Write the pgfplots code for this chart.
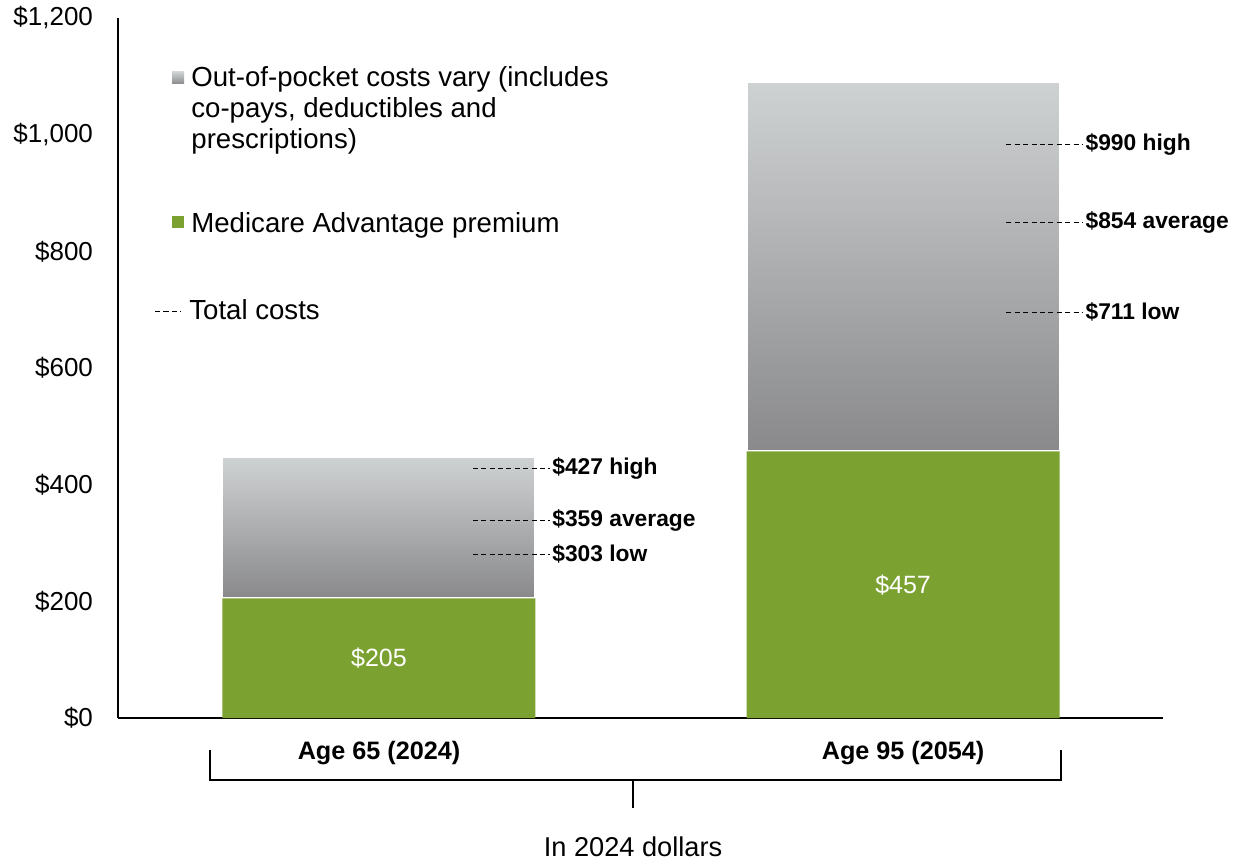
\documentclass[border=0pt]{standalone}
\usepackage{fontspec}
\setmainfont{Liberation Sans}
\usepackage{pgfplots}
\pgfplotsset{compat=1.18}
\definecolor{mgreen}{RGB}{123,162,48}
\definecolor{gtop}{RGB}{207,210,211}
\definecolor{gbot}{RGB}{137,137,139}
\pgfplotsset{
  base/.style={at={(59pt,73pt)}, anchor=south west, scale only axis,
    width=522.5pt, height=350pt, xmin=-0.498, xmax=1.496, ymin=0, ymax=1200},
  dl/.style={black, no markers, line width=0.5pt, dash pattern=on 2.5pt off 1.7pt}
}
\begin{document}
\begin{tikzpicture}[x=1pt,y=1pt]
\useasboundingbox (0,0) rectangle (617,432);
\begin{axis}[base,
  axis x line*=bottom, axis y line*=left,
  axis line style={line width=1pt},
  major tick length=0pt,
  ytick={0,200,400,600,800,1000,1200},
  yticklabels={\$0,\$200,\$400,\$600,\$800,{\$1,000},{\$1,200}},
  y tick label style={font=\fontsize{13}{15}\selectfont, xshift=-9pt},
  xtick={0,1},
  xticklabels={Age 65 (2024),Age 95 (2054)},
  x tick label style={font=\bfseries\fontsize{12.6}{14}\selectfont, yshift=-8pt},
  ybar stacked, bar width=156.5pt,
]
\addplot[fill=mgreen, draw=none] coordinates {(0,205) (1,457)};
\addplot[top color=gtop, bottom color=gbot, draw=white, line width=1pt] coordinates {(0,243) (1,0)};
\addplot[top color=gtop, bottom color=gbot, draw=white, line width=1pt] coordinates {(0,0) (1,633)};
\end{axis}
\begin{axis}[base, hide axis, clip=false]
\tikzset{lab/.style={anchor=west, inner sep=1pt, font=\bfseries\fontsize{11.4}{13}\selectfont}}
\addplot[dl] coordinates {(0.179,427) (0.326,427)} node[lab, pos=1] {\$427 high};
\addplot[dl] coordinates {(0.179,338) (0.326,338)} node[lab, pos=1] {\$359 average};
\addplot[dl] coordinates {(0.179,281) (0.326,281)} node[lab, pos=1] {\$303 low};
\addplot[dl] coordinates {(1.197,984) (1.3435,984)} node[lab, pos=1] {\$990 high};
\addplot[dl] coordinates {(1.197,849) (1.3435,849)} node[lab, pos=1] {\$854 average};
\addplot[dl] coordinates {(1.197,696) (1.3435,696)} node[lab, pos=1] {\$711 low};
\node[white, font=\fontsize{12.5}{14}\selectfont] at (axis cs:0,102.5) {\$205};
\node[white, font=\fontsize{12.5}{14}\selectfont] at (axis cs:1,228.5) {\$457};
\end{axis}
% legend
\fill[top color=gtop, bottom color=gbot] (86,390) rectangle (92,396);
\fill[mgreen] (86,318) rectangle (92,324);
\begin{scope}[every node/.style={anchor=base west, inner sep=0pt, font=\fontsize{13.8}{15}\selectfont}]
\node at (95.5,388.5) {Out-of-pocket costs vary (includes};
\node at (95.5,373) {co-pays, deductibles and};
\node at (95.5,357.5) {prescriptions)};
\node at (95.5,316) {Medicare Advantage premium};
\node at (94.5,272.5) {Total costs};
\end{scope}
\draw[line width=0.5pt, dash pattern=on 2.6pt off 1.6pt] (77.5,276.5) -- (90.5,276.5);
% bracket
\draw[line width=1pt] (105,57) -- (105,42) -- (530.5,42) -- (530.5,57);
\draw[line width=1pt] (316.5,42) -- (316.5,28);
\node[anchor=base, inner sep=0pt, font=\fontsize{13.6}{15}\selectfont] at (316.5,4) {In 2024 dollars};
\end{tikzpicture}
\end{document}
